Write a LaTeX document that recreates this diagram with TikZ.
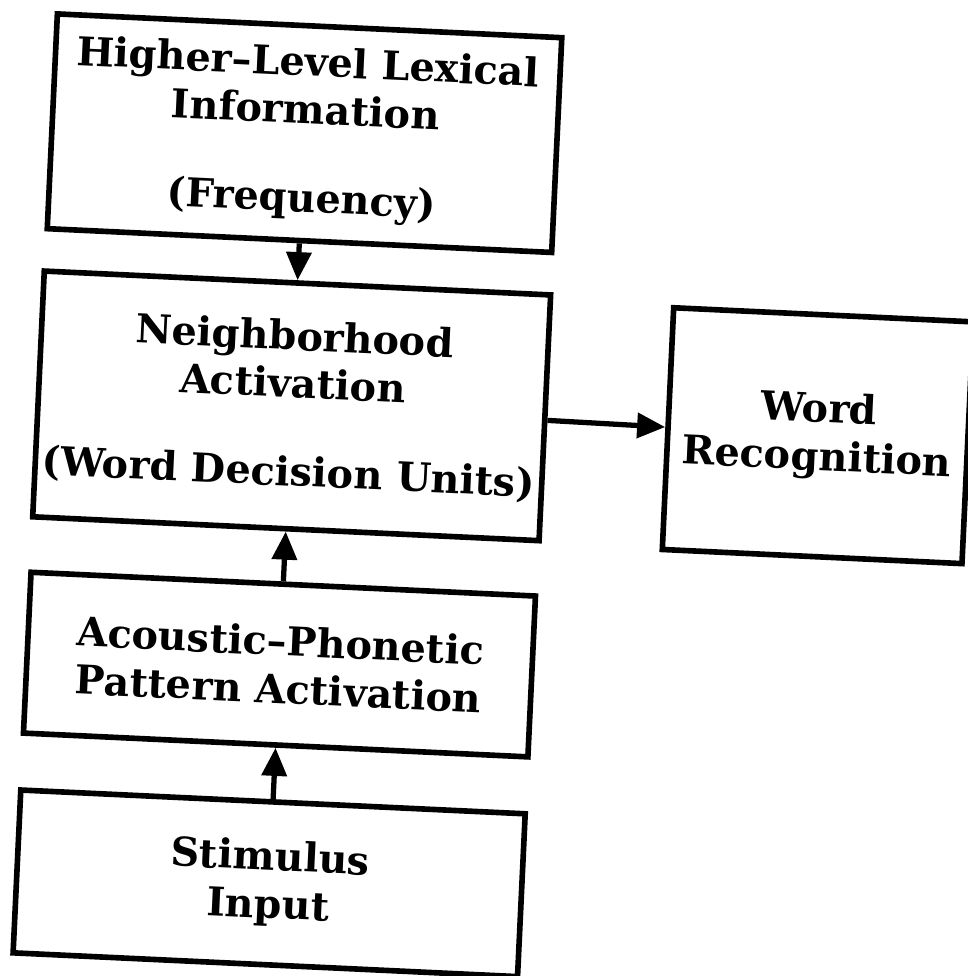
\documentclass[tikz,border=0pt]{standalone}
\usepackage{fontspec}
\setmainfont{DejaVu Serif}
\usetikzlibrary{arrows.meta}

\tikzset{
	box/.style={draw, line width=1.6pt, align=center, inner sep=2pt,
		font=\bfseries\fontsize{11.3}{13.6}\selectfont},
	arr/.style={line width=1.5pt, -{Triangle[length=8pt,width=7pt]}}
}

\begin{document}
\begin{tikzpicture}
	\useasboundingbox (0,0) rectangle (9.67,9.76);
	% the scanned page is a little skewed
	\begin{scope}[rotate around={-2.7:(4.835,4.88)}, transform shape]
	\node[box, minimum width=5.05cm, minimum height=2.15cm] (lex) at (2.88,8.34) {Higher--Level Lexical\\Information\\[11.5pt](Frequency)};
	\node[box, minimum width=5.05cm, minimum height=2.46cm] (nbh) at (2.88,5.61) {Neighborhood\\Activation\\[11.5pt](Word Decision Units)};
	\node[box, minimum width=3.0cm, minimum height=2.42cm] (rec) at (8.15,5.56) {Word\\Recognition};
	\node[box, minimum width=5.05cm, minimum height=1.61cm] (aco) at (2.88,3.02) {Acoustic--Phonetic\\Pattern Activation};
	\node[box, minimum width=5.05cm, minimum height=1.63cm] (stim) at (2.88,0.83) {Stimulus\\Input};
	\draw[arr] (lex) -- (nbh);
	\draw[arr] (aco) -- (nbh);
	\draw[arr] (stim) -- (aco);
	\draw[arr] (nbh) -- (rec);
	\end{scope}
\end{tikzpicture}
\end{document}
